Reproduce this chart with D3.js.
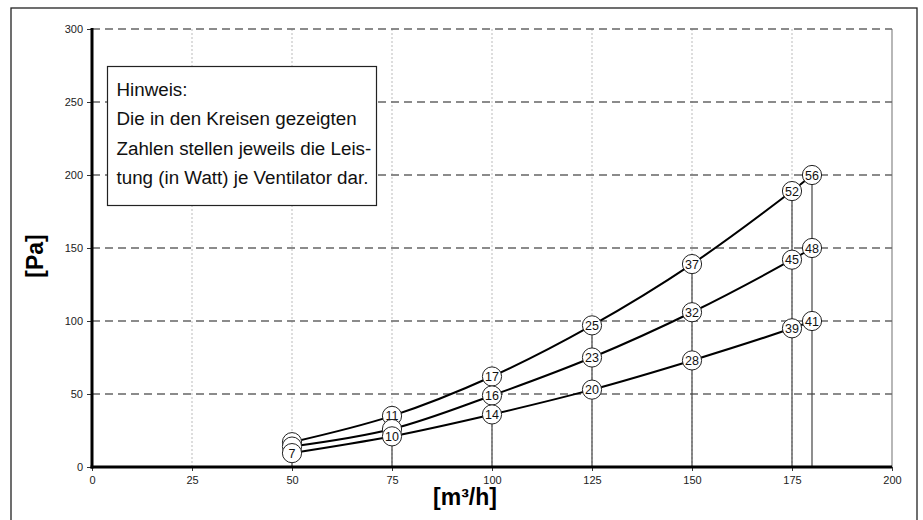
<!DOCTYPE html>
<html><head><meta charset="utf-8">
<script src="https://cdn.jsdelivr.net/npm/d3@7"></script>
<style>body{margin:0;background:#fff;}svg{display:block;font-family:"Liberation Sans",Arial,sans-serif;}</style>
</head><body><svg id="c" width="923" height="520"></svg>
<script>
const xValues = [50, 75, 100, 125, 150, 175, 180];
const seriesHigh = [17, 35, 62, 97, 139, 189, 200];
const seriesMid = [14, 26, 49, 75, 106, 142, 150];
const seriesLow = [9.5, 21, 36, 53, 73, 95, 100];
// labels hidden behind overlapping circles in the original are left empty
const labelsHigh = [null, 11, 17, 25, 37, 52, 56];
const labelsMid = [null, null, 16, 23, 32, 45, 48];
const labelsLow = [7, 10, 14, 20, 28, 39, 41];
const xTicks = [0, 25, 50, 75, 100, 125, 150, 175, 200];
const yTicks = [0, 50, 100, 150, 200, 250, 300];
const noteLines = ["Hinweis:", "Die in den Kreisen gezeigten", "Zahlen stellen jeweils die Leis-", "tung (in Watt) je Ventilator dar."];
const xTitle = "[m³/h]";
const yTitle = "[Pa]";

const svg = d3.select("#c");
const x = d3.scaleLinear().domain([0, 200]).range([92, 892]);
const y = d3.scaleLinear().domain([0, 300]).range([467, 29]);

// outer frame
svg.append("rect").attr("x", 11).attr("y", 8).attr("width", 906).attr("height", 520)
  .attr("fill", "none").attr("stroke", "#222").attr("stroke-width", 1.3);

// vertical grid (dotted)
svg.append("g").selectAll("line").data(xTicks.filter(d => d > 0 && d < 200)).join("line")
  .attr("x1", d => x(d)).attr("x2", d => x(d)).attr("y1", y(300)).attr("y2", y(0))
  .attr("stroke", "#bbb").attr("stroke-width", 1).attr("stroke-dasharray", "2,2");

// right border
svg.append("line").attr("x1", x(200)).attr("x2", x(200)).attr("y1", y(300)).attr("y2", y(0))
  .attr("stroke", "#888").attr("stroke-width", 1.2);

// horizontal dashed grid
svg.append("g").selectAll("line").data(yTicks.filter(d => d > 0)).join("line")
  .attr("x1", x(0)).attr("x2", x(200)).attr("y1", d => y(d)).attr("y2", d => y(d))
  .attr("stroke", "#666").attr("stroke-width", 1.6).attr("stroke-dasharray", "8,5");

// drop lines
svg.append("g").selectAll("line").data(xValues).join("line")
  .attr("x1", d => x(d)).attr("x2", d => x(d))
  .attr("y1", (d, i) => y(seriesHigh[i])).attr("y2", y(0))
  .attr("stroke", "#444").attr("stroke-width", 1.2);

// axes
const yAxis = d3.axisLeft(y).tickValues(yTicks).tickSize(5).tickPadding(4);
const gy = svg.append("g").attr("transform", `translate(${x(0)},0)`).call(yAxis);
gy.select(".domain").remove();
gy.selectAll("text").attr("font-size", 11).attr("fill", "#222").attr("font-family", "Liberation Sans, Arial");
gy.selectAll("line").attr("stroke", "#333");

const xAxis = d3.axisBottom(x).tickValues(xTicks).tickSize(4).tickPadding(5);
const gx = svg.append("g").attr("transform", `translate(0,${y(0)})`).call(xAxis);
gx.select(".domain").remove();
gx.selectAll("text").attr("font-size", 11).attr("fill", "#222").attr("font-family", "Liberation Sans, Arial");
gx.selectAll("line").attr("stroke", "#333");

svg.append("line").attr("x1", x(0)).attr("x2", x(0)).attr("y1", y(300) - 1).attr("y2", y(0) + 1.5)
  .attr("stroke", "#000").attr("stroke-width", 3);
svg.append("line").attr("x1", x(0) - 1.5).attr("x2", x(200)).attr("y1", y(0)).attr("y2", y(0))
  .attr("stroke", "#000").attr("stroke-width", 3);

// curves
const series = [
  {vals: seriesHigh, labels: labelsHigh},
  {vals: seriesMid, labels: labelsMid},
  {vals: seriesLow, labels: labelsLow}
];
const line = d3.line().x(d => x(d[0])).y(d => y(d[1])).curve(d3.curveCatmullRom.alpha(0.5));
series.forEach(s => {
  svg.append("path").datum(xValues.map((v, i) => [v, s.vals[i]]))
    .attr("d", line).attr("fill", "none").attr("stroke", "#000").attr("stroke-width", 2);
});
series.forEach(s => {
  const g = svg.append("g");
  const pts = g.selectAll("g").data(xValues.map((v, i) => [v, s.vals[i], s.labels[i]])).join("g")
    .attr("transform", d => `translate(${x(d[0])},${y(d[1])})`);
  pts.append("circle").attr("r", 9.6).attr("fill", "#fff").attr("stroke", "#222").attr("stroke-width", 1);
  pts.filter(d => d[2] !== null).append("text").text(d => d[2]).attr("text-anchor", "middle").attr("dy", "0.36em")
    .attr("font-size", 12.5).attr("fill", "#111");
});

// note box
svg.append("rect").attr("x", 107.5).attr("y", 66.5).attr("width", 269).attr("height", 139)
  .attr("fill", "#fff").attr("stroke", "#222").attr("stroke-width", 1.2);
svg.append("g").selectAll("text").data(noteLines).join("text")
  .attr("x", 116.5).attr("y", (d, i) => 96 + i * 29.3)
  .attr("font-size", 18.8).attr("fill", "#111").text(d => d);

// titles
svg.append("text").attr("x", 465).attr("y", 505).attr("text-anchor", "middle")
  .attr("font-size", 23).attr("font-weight", "bold").attr("fill", "#000").text(xTitle);
svg.append("text").attr("transform", "translate(43,256) rotate(-90)").attr("text-anchor", "middle")
  .attr("font-size", 23).attr("font-weight", "bold").attr("fill", "#000").text(yTitle);
</script></body></html>
